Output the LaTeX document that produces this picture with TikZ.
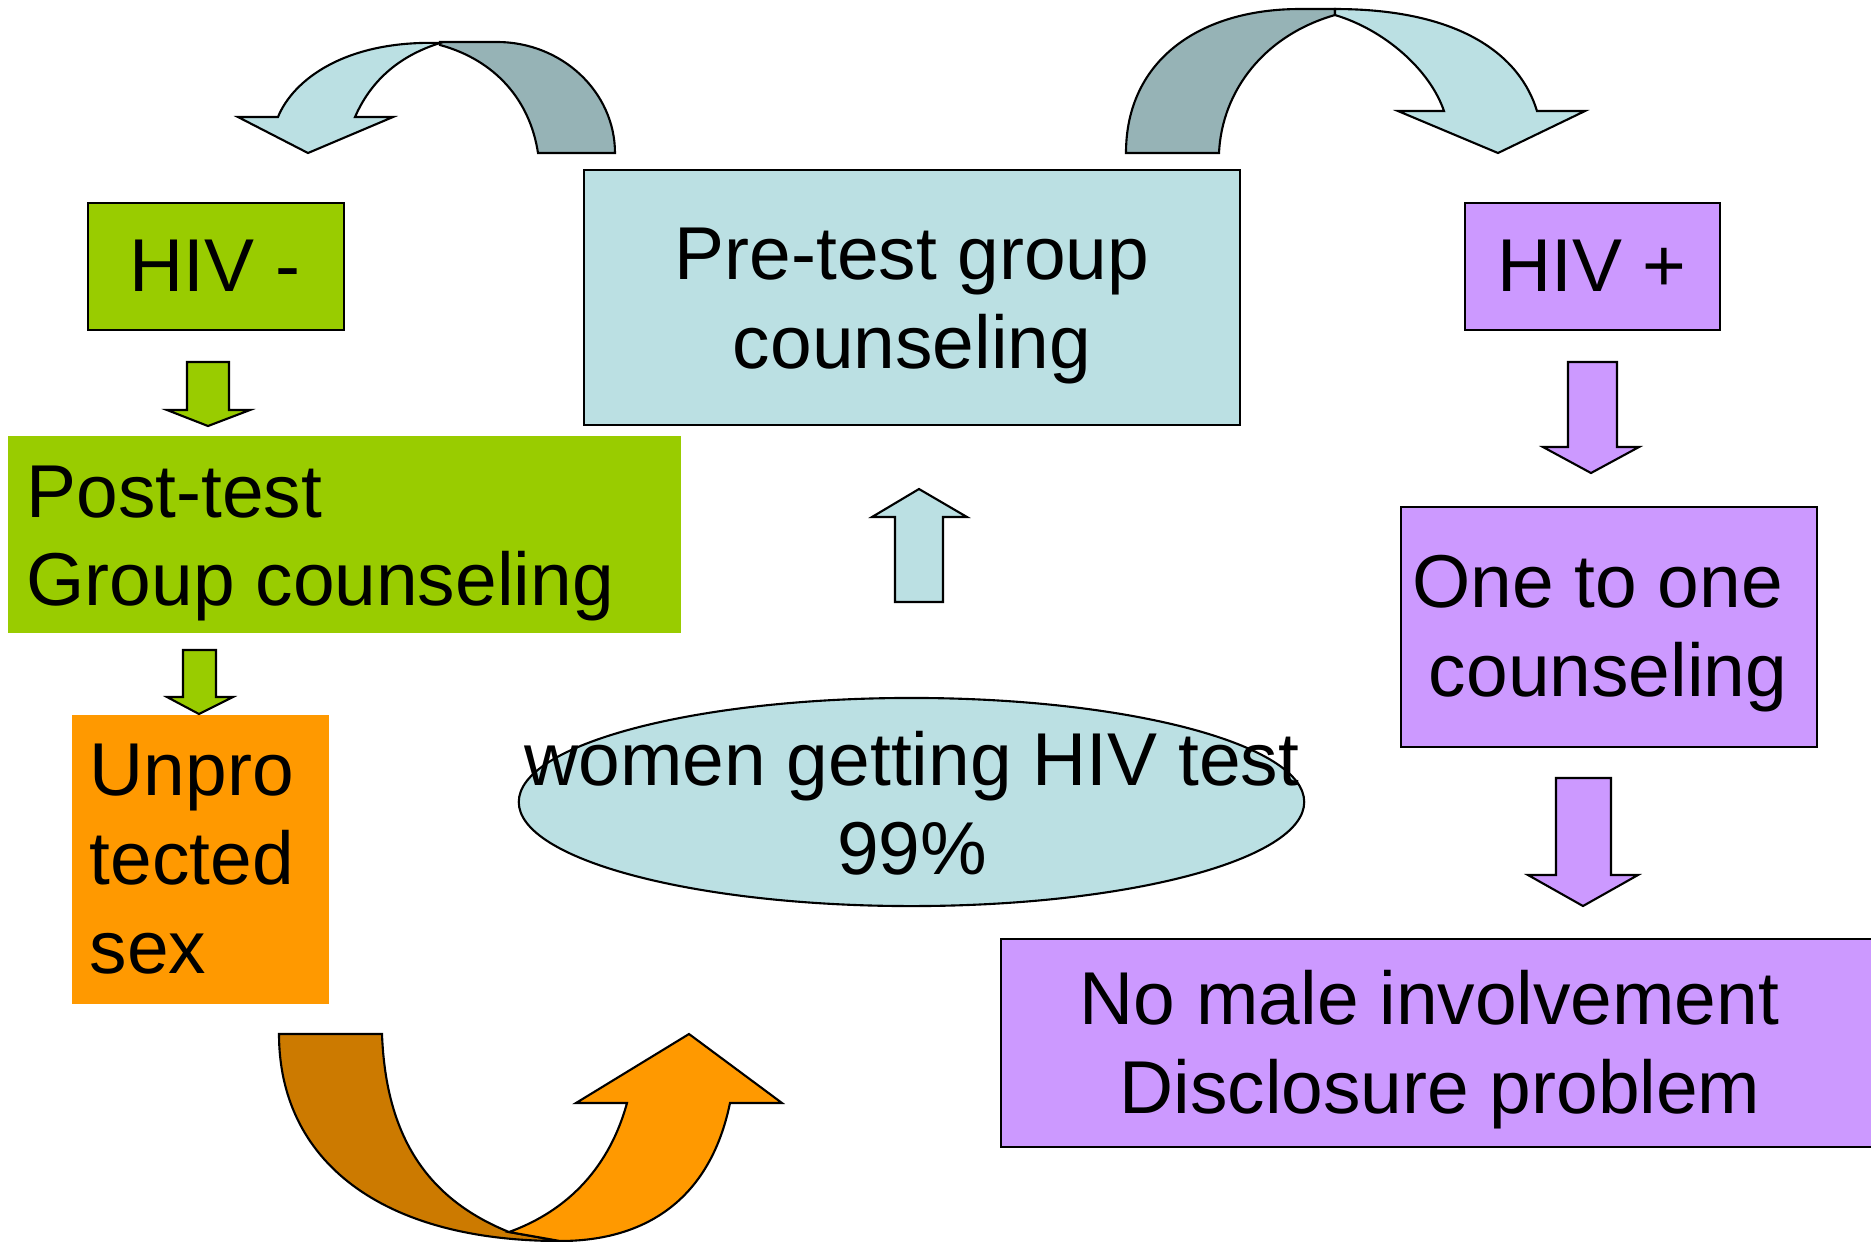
\documentclass[tikz,border=0pt]{standalone}
\usepackage{fontspec}
\setmainfont{Liberation Sans}
\usepackage{xcolor}
\definecolor{hivblue}{HTML}{BBE0E3}
\definecolor{hivblueback}{HTML}{96B3B6}
\definecolor{hivgreen}{HTML}{99CC00}
\definecolor{hivorange}{HTML}{FF9900}
\definecolor{hivorangeback}{HTML}{CC7A00}
\definecolor{hivpurple}{HTML}{CC99FF}
\usepackage{tikz}
\usetikzlibrary{shapes.geometric}

\begin{document}
\begin{tikzpicture}[x=0.01cm, y=-0.01cm,
    hivbox/.style={draw, line width=0.6pt, anchor=north west, inner sep=0pt},
    flatbox/.style={anchor=north west, inner sep=0pt},
    blockarrow/.style={draw, line width=0.6pt},
    lbl/.style={inner sep=0pt, font=\fontsize{21.3}{25.3}\selectfont}]
        \useasboundingbox (0,0) rectangle (1871,1241);
        % curved arrow over to HIV -
        \filldraw[blockarrow, fill=hivblueback]
          (615,153) .. controls (615,92) and (562,42) .. (497,42) -- (440,42)
          -- (440,45) .. controls (495,60) and (530,100) .. (538,153) -- cycle;
        \filldraw[blockarrow, fill=hivblue]
          (440,43) .. controls (345,40) and (293,80) .. (278,117)
          -- (238,117) -- (308,153) -- (393,117) -- (355,117)
          .. controls (372,78) and (402,55) .. (440,43) -- cycle;
        % curved arrow over to HIV +
        \filldraw[blockarrow, fill=hivblueback]
          (1126,153) .. controls (1126,60) and (1200,9) .. (1300,9) -- (1335,9)
          -- (1335,15) .. controls (1265,35) and (1222,90) .. (1219,153) -- cycle;
        \filldraw[blockarrow, fill=hivblue]
          (1335,15) -- (1335,9) .. controls (1460,9) and (1520,55) .. (1537,111)
          -- (1585,111) -- (1498,153) -- (1398,111) -- (1444,111)
          .. controls (1430,70) and (1385,30) .. (1335,15) -- cycle;
        % curved arrow back up to the test
        \filldraw[blockarrow, fill=hivorangeback]
          (279,1034) .. controls (279,1160) and (380,1241) .. (560,1241)
          -- (509,1232) .. controls (430,1200) and (386,1140) .. (382,1034) -- cycle;
        \filldraw[blockarrow, fill=hivorange]
          (509,1232) -- (560,1241) .. controls (645,1241) and (710,1200) .. (730,1103)
          -- (782,1103) -- (689,1034) -- (576,1103) -- (627,1103)
          .. controls (610,1165) and (570,1210) .. (509,1232) -- cycle;
        % boxes
        \node[hivbox, fill=hivgreen, minimum width=2.56cm, minimum height=1.27cm]
          (hivneg) at (87,202) {};
        \node[hivbox, fill=hivblue, minimum width=6.56cm, minimum height=2.55cm]
          (pretest) at (583,169) {};
        \node[hivbox, fill=hivpurple, minimum width=2.55cm, minimum height=1.27cm]
          (hivpos) at (1464,202) {};
        \node[flatbox, fill=hivgreen, minimum width=6.73cm, minimum height=1.97cm]
          (posttest) at (7,435) {};
        \node[flatbox, fill=hivorange, minimum width=2.57cm, minimum height=2.89cm]
          (unprot) at (71,714) {};
        \node[hivbox, fill=hivpurple, minimum width=4.16cm, minimum height=2.40cm]
          (onetoone) at (1400,506) {};
        \node[hivbox, fill=hivpurple, minimum width=8.80cm, minimum height=2.08cm]
          (nomale) at (1000,938) {};
        \node[draw, line width=0.6pt, ellipse, fill=hivblue, inner sep=0pt,
          minimum width=7.85cm, minimum height=2.08cm] (testell) at (911.5,802) {};
        % straight arrows
        \filldraw[blockarrow, fill=hivgreen]
          (187,362) -- (229,362) -- (229,410) -- (250,410) -- (208,426)
          -- (167,410) -- (187,410) -- cycle;
        \filldraw[blockarrow, fill=hivgreen]
          (183,650) -- (216,650) -- (216,697) -- (233,697) -- (199,714)
          -- (167,697) -- (183,697) -- cycle;
        \filldraw[blockarrow, fill=hivblue]
          (895,602) -- (943,602) -- (943,517) -- (967,517) -- (919,489)
          -- (872,517) -- (895,517) -- cycle;
        \filldraw[blockarrow, fill=hivpurple]
          (1568,362) -- (1617,362) -- (1617,447) -- (1639,447) -- (1591,473)
          -- (1543,447) -- (1568,447) -- cycle;
        \filldraw[blockarrow, fill=hivpurple]
          (1556,778) -- (1611,778) -- (1611,875) -- (1638,875) -- (1583,906)
          -- (1528,875) -- (1556,875) -- cycle;
        % texts
        \node[lbl] (hivneglbl) at (215,266) {HIV -};
        \node[lbl] (hivposlbl) at (1592,266) {HIV +};
        \node[lbl, align=center] (pretestlbl) at (912,306) {Pre-test group\\counseling};
        \node[lbl, align=left, anchor=west] (posttestlbl) at (26,543.5)
          {Post-test\\Group counseling};
        \node[lbl, align=left, anchor=west] (unprotlbl) at (89,859.5) {Unpro\\tected\\sex};
        \node[lbl, align=center] (testlbl) at (912,803) {women getting HIV test\\99\%};
        \node[lbl, align=center] (onetoonelbl) at (1608,633.5)
          {One to one\kern0.278em\\counseling};
        \node[lbl, align=center] (nomalelbl) at (1440,1049.5)
          {No male involvement\kern0.278em\\Disclosure problem};
      \end{tikzpicture}
\end{document}
